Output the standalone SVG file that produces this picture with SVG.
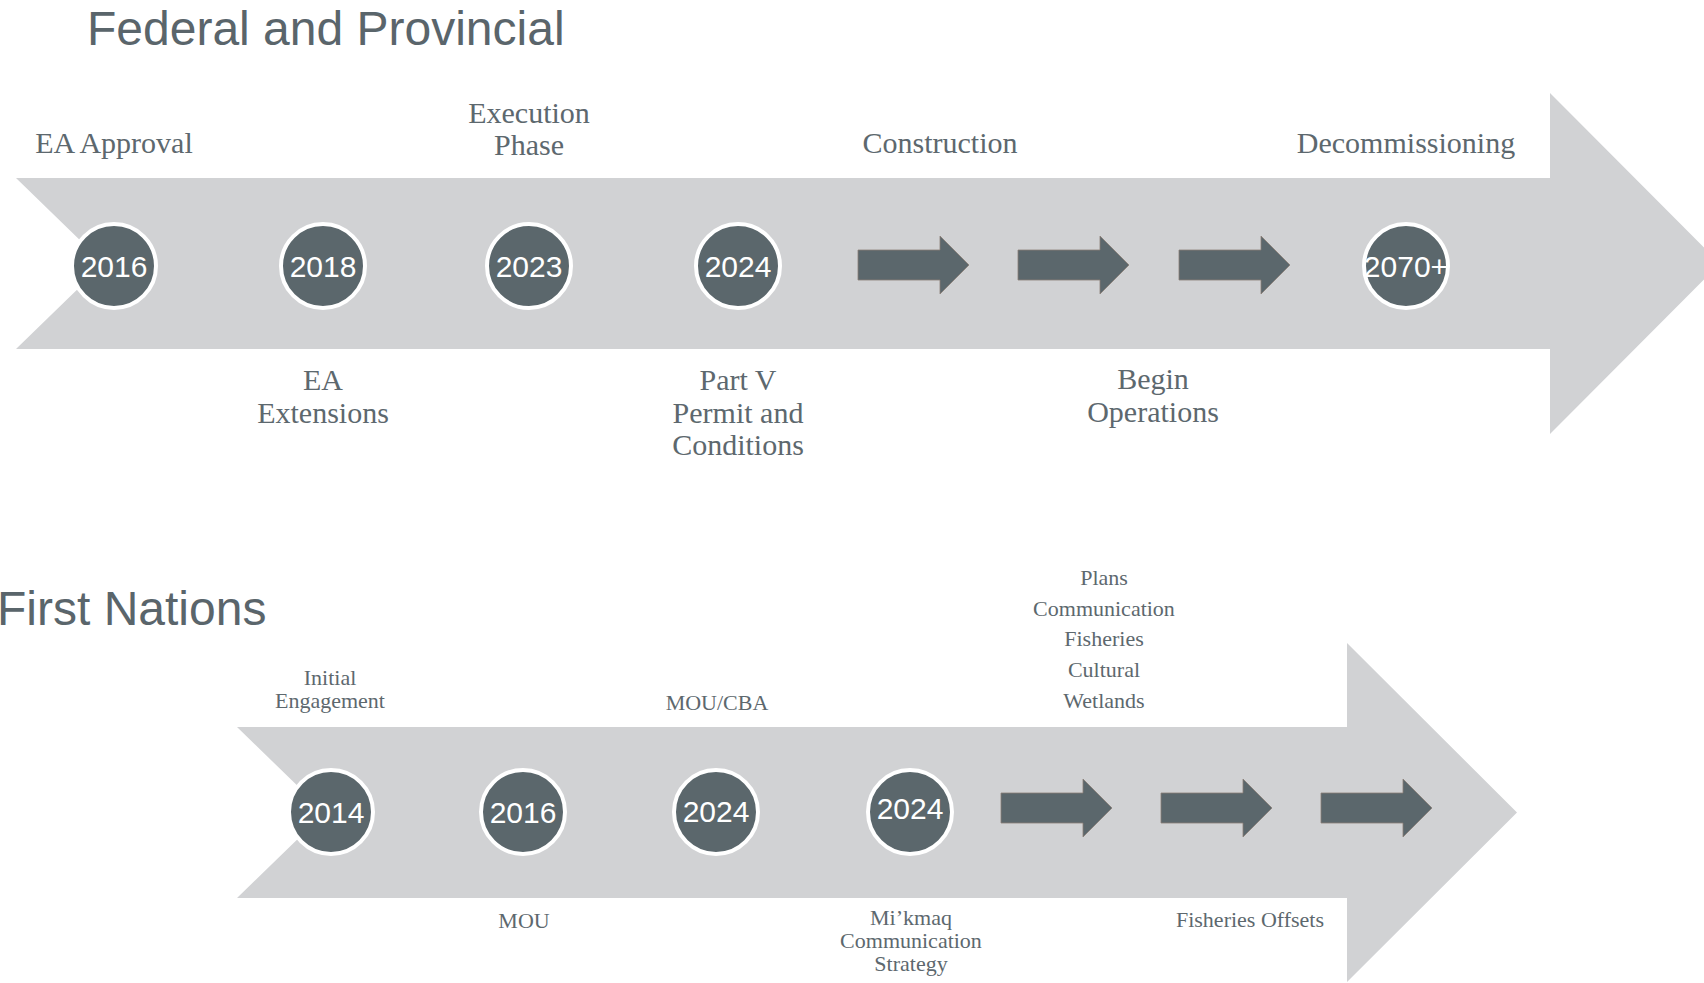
<svg xmlns="http://www.w3.org/2000/svg" width="1704" height="983" viewBox="0 0 1704 983">
  <style>
    .title { font-family: "Liberation Sans", Arial, sans-serif; font-size: 48px; fill: #5a656b; }
    .lbl { font-family: "Liberation Serif", "Times New Roman", serif; font-size: 30px; fill: #5d686e; text-anchor: middle; }
    .lbs { font-family: "Liberation Serif", "Times New Roman", serif; font-size: 22px; fill: #5d686e; text-anchor: middle; }
    .band { fill: #d1d2d4; }
    .dot { fill: #5b676c; stroke: #ffffff; stroke-width: 4; }
    .yr { font-family: "Liberation Sans", Arial, sans-serif; font-size: 30px; fill: #ffffff; text-anchor: middle; }
    .step { fill: #5b676c; stroke: #8c7f76; stroke-width: 0.8; }
  </style>
  <defs>
    <path id="stepArrow" d="M0,-15 H82 V-29 L111,0 L82,29 V15 H0 Z"/>
  </defs>
  <rect width="1704" height="983" fill="#ffffff"/>

  <!-- Titles -->
  <text class="title" x="87" y="45">Federal and Provincial</text>
  <text class="title" x="-3" y="625">First Nations</text>

  <!-- Timeline bands -->
  <g id="bands">
    <polygon class="band" points="16,178 1550,178 1550,93 1720,263.5 1550,434 1550,349 16,349 104,263.5"/>
    <polygon class="band" points="237,727 1347,727 1347,643 1517,812.5 1347,982 1347,898 237,898 325,812.5"/>
  </g>

  <!-- Connectors (step arrows) -->
  <g id="connectors">
    <use href="#stepArrow" class="step" transform="translate(858,265)"/>
    <use href="#stepArrow" class="step" transform="translate(1018,265)"/>
    <use href="#stepArrow" class="step" transform="translate(1179,265)"/>
    <use href="#stepArrow" class="step" transform="translate(1001,808)"/>
    <use href="#stepArrow" class="step" transform="translate(1161,808)"/>
    <use href="#stepArrow" class="step" transform="translate(1321,808)"/>
  </g>

  <!-- Federal and Provincial nodes -->
  <g id="fp-2016">
    <circle class="dot" cx="114" cy="266" r="42"/>
    <text class="yr" x="114" y="277">2016</text>
    <text class="lbl" x="114" y="153">EA Approval</text>
  </g>
  <g id="fp-2018">
    <circle class="dot" cx="323" cy="266" r="42"/>
    <text class="yr" x="323" y="277">2018</text>
    <text class="lbl" x="323" y="390">EA</text>
    <text class="lbl" x="323" y="423">Extensions</text>
  </g>
  <g id="fp-2023">
    <circle class="dot" cx="529" cy="266" r="42"/>
    <text class="yr" x="529" y="277">2023</text>
    <text class="lbl" x="529" y="123">Execution</text>
    <text class="lbl" x="529" y="155">Phase</text>
  </g>
  <g id="fp-2024">
    <circle class="dot" cx="738" cy="266" r="42"/>
    <text class="yr" x="738" y="277">2024</text>
    <text class="lbl" x="738" y="390">Part V</text>
    <text class="lbl" x="738" y="423">Permit and</text>
    <text class="lbl" x="738" y="455">Conditions</text>
  </g>
  <g id="fp-construction">
    <text class="lbl" x="940" y="153">Construction</text>
  </g>
  <g id="fp-operations">
    <text class="lbl" x="1153" y="389">Begin</text>
    <text class="lbl" x="1153" y="422">Operations</text>
  </g>
  <g id="fp-2070">
    <circle class="dot" cx="1406" cy="266" r="42"/>
    <text class="yr" x="1406" y="277">2070+</text>
    <text class="lbl" x="1406" y="153">Decommissioning</text>
  </g>

  <!-- First Nations nodes -->
  <g id="fn-2014">
    <circle class="dot" cx="331" cy="812" r="42"/>
    <text class="yr" x="331" y="823">2014</text>
    <text class="lbs" x="330" y="685">Initial</text>
    <text class="lbs" x="330" y="708">Engagement</text>
  </g>
  <g id="fn-2016">
    <circle class="dot" cx="523" cy="812" r="42"/>
    <text class="yr" x="523" y="823">2016</text>
    <text class="lbs" x="524" y="928">MOU</text>
  </g>
  <g id="fn-2024a">
    <circle class="dot" cx="716" cy="812" r="42"/>
    <text class="yr" x="716" y="822">2024</text>
    <text class="lbs" x="717" y="710">MOU/CBA</text>
  </g>
  <g id="fn-2024b">
    <circle class="dot" cx="910" cy="812" r="42"/>
    <text class="yr" x="910" y="819">2024</text>
    <text class="lbs" x="911" y="925">Mi’kmaq</text>
    <text class="lbs" x="911" y="948">Communication</text>
    <text class="lbs" x="911" y="971">Strategy</text>
  </g>
  <g id="fn-plans">
    <text class="lbs" x="1104" y="585">Plans</text>
    <text class="lbs" x="1104" y="616">Communication</text>
    <text class="lbs" x="1104" y="646">Fisheries</text>
    <text class="lbs" x="1104" y="677">Cultural</text>
    <text class="lbs" x="1104" y="708">Wetlands</text>
  </g>
  <g id="fn-offsets">
    <text class="lbs" x="1250" y="927">Fisheries Offsets</text>
  </g>
</svg>
